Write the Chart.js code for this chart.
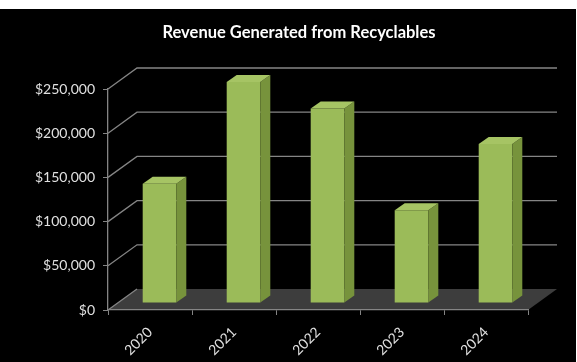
<!DOCTYPE html>
<html>
<head>
<meta charset="utf-8">
<script src="https://cdn.jsdelivr.net/npm/chart.js@4"></script>
<style>
  body { margin: 0; background: #fff; }
  #wrap { position: absolute; left: 0; top: 9px; width: 576px; height: 353px; background: #000; }
</style>
</head>
<body>
<div id="wrap"><canvas id="revenueChart" width="576" height="353"></canvas></div>
<script>
const chartTitle = 'Revenue Generated from Recyclables';
const years = ['2020', '2021', '2022', '2023', '2024'];
const revenue = [135000, 250000, 220000, 105000, 180000];
const yTicks = [0, 50000, 100000, 150000, 200000, 250000];

const wallOffset = { x: 29, y: -21 };   // back wall relative to the front plane
const barShift = { x: 9.5, y: -7 };     // bar front face sits a bit into the floor
const barDepth = { x: 10, y: -7 };
const gridColor = '#858585';
const labelColor = '#e0e0e0';

const fake3d = {
  id: 'fake3d',
  beforeDraw(chart) {
    const { ctx, chartArea: a, scales: { y } } = chart;
    ctx.save();
    // floor
    ctx.fillStyle = '#3d3d3d';
    ctx.beginPath();
    ctx.moveTo(a.left, a.bottom);
    ctx.lineTo(a.right, a.bottom);
    ctx.lineTo(a.right + wallOffset.x, a.bottom + wallOffset.y);
    ctx.lineTo(a.left + wallOffset.x, a.bottom + wallOffset.y);
    ctx.closePath();
    ctx.fill();
    // side wall diagonals + back wall gridlines
    ctx.strokeStyle = gridColor;
    ctx.lineWidth = 1.3;
    ctx.beginPath();
    y.ticks.forEach(t => {
      const py = y.getPixelForValue(t.value);
      ctx.moveTo(a.left, py);
      ctx.lineTo(a.left + wallOffset.x, py + wallOffset.y);
      if (t.value > 0) ctx.lineTo(a.right + wallOffset.x, py + wallOffset.y);
    });
    ctx.stroke();
    // title
    ctx.fillStyle = '#ffffff';
    ctx.font = 'bold 16.5px Lato';
    ctx.textAlign = 'center';
    ctx.textBaseline = 'middle';
    ctx.fillText(chartTitle, (a.left + a.right) / 2 - 19, 24);
    ctx.restore();
  },
  beforeDatasetsDraw(chart) {
    chart.ctx.save();
    chart.ctx.translate(barShift.x, barShift.y);
  },
  afterDatasetsDraw(chart) {
    const ctx = chart.ctx;
    chart.getDatasetMeta(0).data.forEach(bar => {
      const { x, y, base, width } = bar.getProps(['x', 'y', 'base', 'width'], true);
      const l = x - width / 2, r = x + width / 2;
      // right side
      ctx.fillStyle = '#77933c';
      ctx.beginPath();
      ctx.moveTo(r, y);
      ctx.lineTo(r + barDepth.x, y + barDepth.y);
      ctx.lineTo(r + barDepth.x, base + barDepth.y);
      ctx.lineTo(r, base);
      ctx.closePath();
      ctx.fill();
      // top
      ctx.fillStyle = '#a6c464';
      ctx.beginPath();
      ctx.moveTo(l, y);
      ctx.lineTo(r, y);
      ctx.lineTo(r + barDepth.x, y + barDepth.y);
      ctx.lineTo(l + barDepth.x, y + barDepth.y);
      ctx.closePath();
      ctx.fill();
    });
    ctx.restore();
  }
};

new Chart(document.getElementById('revenueChart'), {
  type: 'bar',
  data: {
    labels: years,
    datasets: [{
      data: revenue,
      backgroundColor: '#9bbb59',
      borderWidth: 0,
      categoryPercentage: 1,
      barPercentage: 0.4
    }]
  },
  options: {
    responsive: false,
    animation: false,
    layout: { padding: { left: 0, right: 48, top: 80, bottom: 0 } },
    plugins: {
      legend: { display: false },
      tooltip: { enabled: false },
      title: { display: false }
    },
    scales: {
      x: {
        afterFit: s => { s.height = 52; },
        grid: { drawOnChartArea: false, color: gridColor, tickLength: 5, offset: true },
        border: { display: true, color: gridColor, width: 1.3 },
        ticks: {
          color: labelColor,
          font: { family: 'Lato', size: 14 },
          minRotation: 45,
          maxRotation: 45,
          padding: 9
        }
      },
      y: {
        min: 0,
        max: 250000,
        afterFit: s => { s.width = 108; },
        afterBuildTicks: s => { s.ticks = yTicks.map(v => ({ value: v })); },
        grid: { drawOnChartArea: false, color: gridColor, tickLength: 5 },
        border: { display: true, color: gridColor, width: 1.3 },
        ticks: {
          color: labelColor,
          font: { family: 'Lato', size: 14 },
          padding: 8,
          callback: v => '$' + v.toLocaleString('en-US')
        }
      }
    }
  },
  plugins: [fake3d]
});
</script>
</body>
</html>
